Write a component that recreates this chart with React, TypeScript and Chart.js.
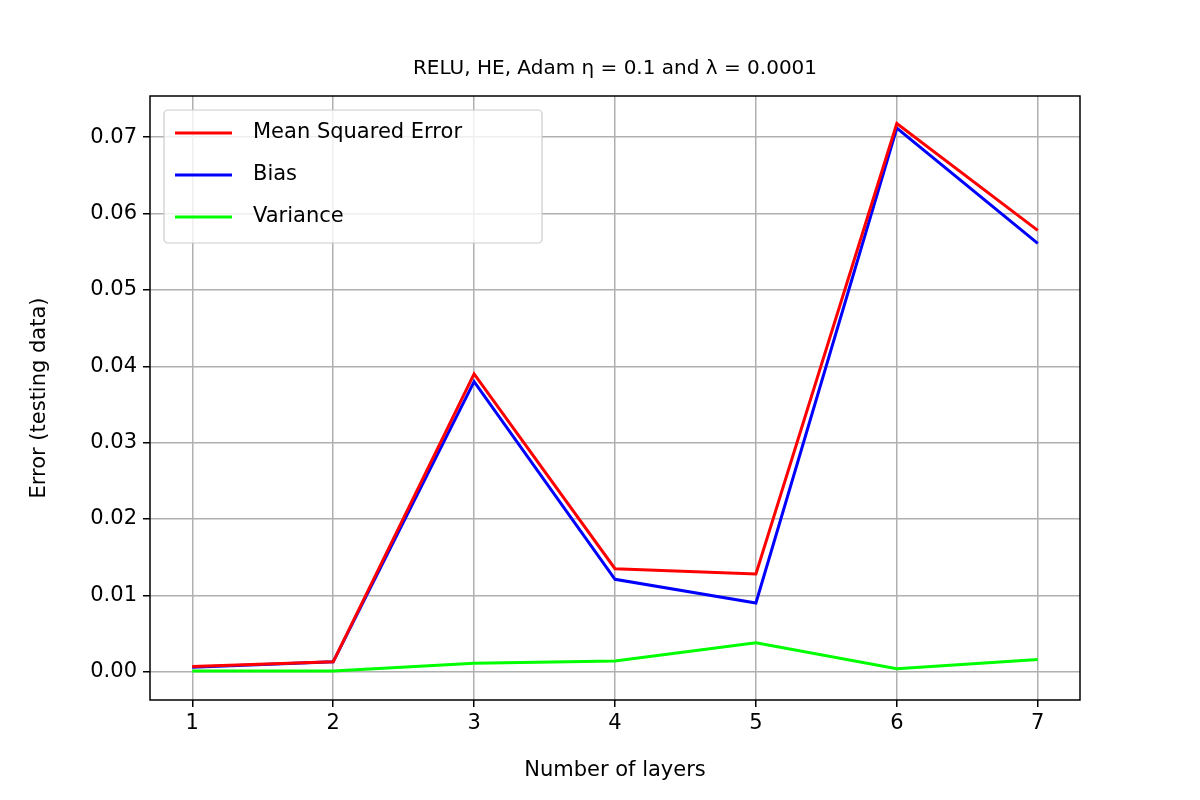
import React, { useRef, useEffect } from 'react';
import Chart from 'chart.js/auto';

const layers = [1, 2, 3, 4, 5, 6, 7];
const mse = [0.0007, 0.0013, 0.039, 0.0135, 0.0128, 0.0718, 0.0578];
const bias = [0.0006, 0.0013, 0.038, 0.0121, 0.009, 0.0712, 0.0561];
const variance = [0.0001, 0.0001, 0.0011, 0.0014, 0.0038, 0.0004, 0.0016];
const yTicks = [0, 0.01, 0.02, 0.03, 0.04, 0.05, 0.06, 0.07];

const font = 'DejaVu Sans';
const titleText = 'RELU, HE, Adam η = 0.1 and λ = 0.0001';

const boxAndLegend = {
    id: 'boxAndLegend',
    afterDraw(chart: any) {
        const { ctx, chartArea } = chart;
        ctx.save();
        ctx.strokeStyle = '#000';
        ctx.lineWidth = 1.5;
        ctx.strokeRect(chartArea.left, chartArea.top, chartArea.right - chartArea.left, chartArea.bottom - chartArea.top);
        // titles
        ctx.fillStyle = '#000';
        ctx.textAlign = 'center';
        ctx.textBaseline = 'middle';
        ctx.font = `20px ${font}`;
        const cx = (chartArea.left + chartArea.right) / 2;
        ctx.fillText(titleText, cx, 69);
        ctx.font = `21px ${font}`;
        ctx.fillText('Number of layers', cx, 771);
        ctx.save();
        ctx.translate(40, (chartArea.top + chartArea.bottom) / 2);
        ctx.rotate(-Math.PI / 2);
        ctx.fillText('Error (testing data)', 0, 0);
        ctx.restore();
        // legend
        const x = chartArea.left + 14, y = chartArea.top + 14, w = 378, h = 133;
        ctx.fillStyle = 'rgba(255,255,255,0.8)';
        ctx.strokeStyle = '#cccccc';
        ctx.lineWidth = 1.2;
        ctx.beginPath();
        ctx.roundRect(x, y, w, h, 4);
        ctx.fill();
        ctx.stroke();
        ctx.font = `21px ${font}`;
        ctx.textAlign = 'left';
        chart.data.datasets.forEach((ds: any, i: number) => {
            const ly = y + 23 + i * 42;
            ctx.strokeStyle = ds.borderColor;
            ctx.lineWidth = 3;
            ctx.beginPath();
            ctx.moveTo(x + 11, ly);
            ctx.lineTo(x + 68, ly);
            ctx.stroke();
            ctx.fillStyle = '#000';
            ctx.fillText(ds.label, x + 89, ly);
        });
        ctx.restore();
    }
};

export default function App() {
    const ref = useRef<HTMLCanvasElement>(null);

    useEffect(() => {
        document.body.style.margin = '0';
        if (!ref.current) return;
        const mk = (label: string, vals: number[], color: string) => ({
            label,
            data: layers.map((l, i) => ({ x: l, y: vals[i] })),
            borderColor: color,
            backgroundColor: color,
            borderWidth: 3,
            pointRadius: 0,
            tension: 0,
        });
        const chart = new Chart(ref.current, {
            type: 'line',
            data: {
                datasets: [
                    mk('Mean Squared Error', mse, '#ff0000'),
                    mk('Bias', bias, '#0000ff'),
                    mk('Variance', variance, '#00ff00'),
                ]
            },
            options: {
                animation: false,
                responsive: false,
                layout: { padding: { right: 120, top: 96 } },
                scales: {
                    x: {
                        type: 'linear',
                        min: 0.7,
                        max: 7.3,
                        afterBuildTicks: (s: any) => { s.ticks = layers.map(v => ({ value: v })); },
                        afterFit: (s: any) => { s.height = 100; },
                        grid: { color: '#b0b0b0', lineWidth: 1.5, tickLength: 7, tickColor: '#000' },
                        border: { display: false },
                        ticks: { color: '#000', font: { family: font, size: 21 }, padding: 4 },
                    },
                    y: {
                        min: -0.0037,
                        max: 0.0754,
                        afterBuildTicks: (s: any) => { s.ticks = yTicks.map(v => ({ value: v })); },
                        afterFit: (s: any) => { s.width = 150; },
                        grid: { color: '#b0b0b0', lineWidth: 1.5, tickLength: 7, tickColor: '#000' },
                        border: { display: false },
                        ticks: { color: '#000', font: { family: font, size: 21 }, padding: 6, callback: (v: any) => Number(v).toFixed(2) },
                    }
                },
                plugins: {
                    legend: { display: false },
                    tooltip: { enabled: false },
                    title: { display: false },
                }
            },
            plugins: [boxAndLegend]
        });
        return () => chart.destroy();
    }, []);

    return <canvas ref={ref} width={1200} height={800} style={{ display: 'block', width: 1200, height: 800 }} />;
}
